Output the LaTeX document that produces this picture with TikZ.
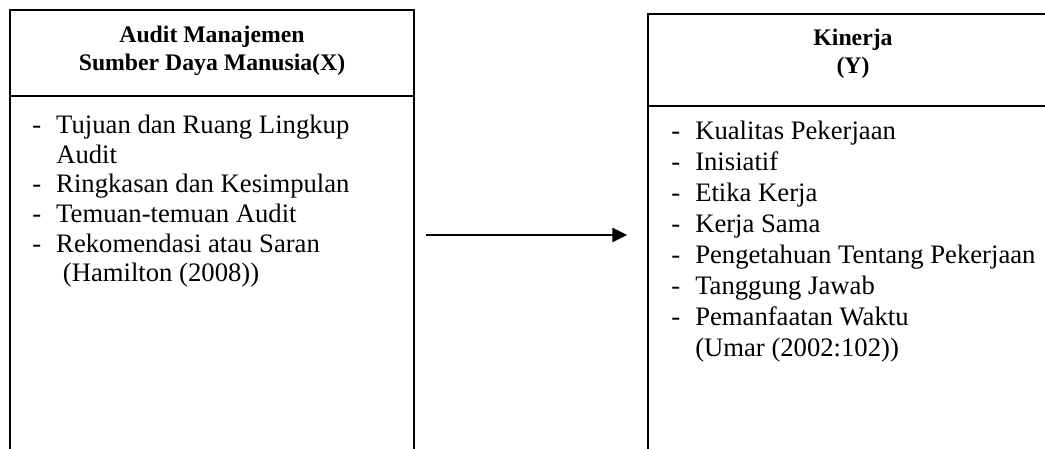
\documentclass[tikz,border=0pt]{standalone}
\usepackage{fontspec}
\setmainfont{Liberation Serif}
\usetikzlibrary{arrows.meta}
\newlength{\dashw}
\setlength{\dashw}{18pt}
\newcommand{\itm}[1]{\makebox[\dashw][l]{-}#1}
\newcommand{\cnt}[1]{\hspace*{\dashw}#1}
\tikzset{
	varbox/.style={draw, line width=1.3pt, inner sep=0pt},
	headtext/.style={font=\fontsize{17.8}{21}\selectfont\bfseries, align=center},
	itemlist/.style={font=\fontsize{20}{22.2}\selectfont, align=left, inner sep=0pt, anchor=north west},
	flow/.style={-{Triangle[length=11pt,width=10.5pt]}, line width=1.6pt}
}
\begin{document}
\begin{tikzpicture}[x=0.75pt,y=-0.75pt]
		\useasboundingbox (0,0) rectangle (1045,449);
		\clip (0,0) rectangle (1045,449);
		% variabel X
		\node[varbox, minimum width=303pt, minimum height=345pt] (xbox) at (212,240) {};
		\draw[line width=1.3pt] ([yshift=-65.25pt]xbox.north west) -- ([yshift=-65.25pt]xbox.north east);
		\node[headtext] (xhead) at (212,51) {Audit Manajemen\\Sumber Daya Manusia(X)};
		\node[itemlist] (xlist) at (32,115) {\itm{Tujuan dan Ruang Lingkup}\\
			\cnt{Audit}\\
			\itm{Ringkasan dan Kesimpulan}\\
			\itm{Temuan-temuan Audit}\\
			\itm{Rekomendasi atau Saran}\\
			\cnt{\ (Hamilton (2008))}};
		% variabel Y
		\node[varbox, minimum width=307.5pt, minimum height=342pt] (ybox) at (853,242) {};
		\draw[line width=1.3pt] ([yshift=-69.75pt]ybox.north west) -- ([yshift=-69.75pt]ybox.north east);
		\node[headtext] (yhead) at (853,54) {Kinerja\\(Y)};
		\node[itemlist, font=\fontsize{20}{23.25}\selectfont] (ylist) at (671,121) {\itm{Kualitas Pekerjaan}\\
			\itm{Inisiatif}\\
			\itm{Etika Kerja}\\
			\itm{Kerja Sama}\\
			\itm{Pengetahuan Tentang Pekerjaan}\\
			\itm{Tanggung Jawab}\\
			\itm{Pemanfaatan Waktu}\\
			\cnt{(Umar (2002:102))}};
		% pengaruh X terhadap Y
		\coordinate (arrowrow) at (0,235);
		\draw[flow, shorten <=8.25pt, shorten >=15pt] (xbox.east |- arrowrow) -- (ybox.west |- arrowrow);
	\end{tikzpicture}
\end{document}
